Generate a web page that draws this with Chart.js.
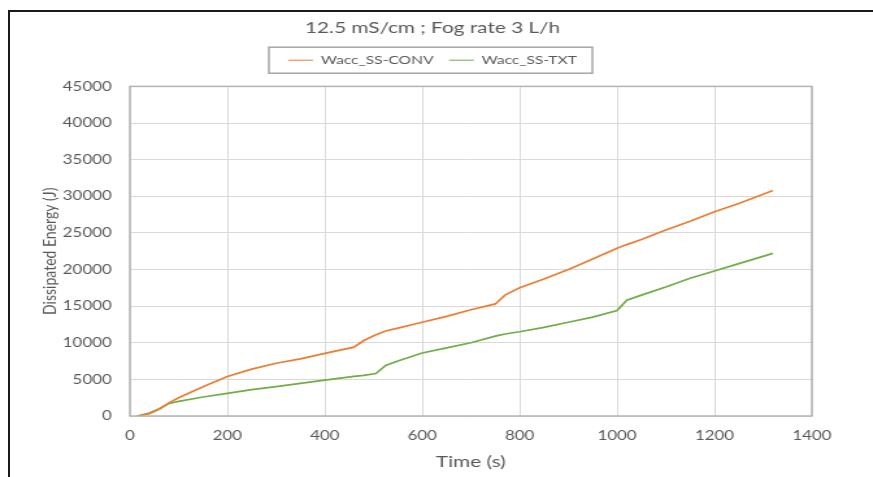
<!DOCTYPE html>
<html>
<head>
<meta charset="utf-8">
<script src="https://cdn.jsdelivr.net/npm/chart.js@4.4.0/dist/chart.umd.min.js"></script>
<style>
  html, body { margin: 0; padding: 0; background: #fff; overflow: hidden; }
  #frame { position: absolute; left: 8px; top: 10px; width: 900px; height: 500px;
           border-left: 2px solid #1a1a1a; border-top: 2px solid #1a1a1a; }
  /* o original é esticado na horizontal, então o canvas também */
  #wrap { position: absolute; left: 0; top: 0; width: 672px; height: 477px;
          transform: scaleX(1.299); transform-origin: 0 0; }
</style>
</head>
<body>
<div id="frame"></div>
<div id="wrap"><canvas id="chart" width="672" height="477"></canvas></div>
<script>
// Tempo (s) e energia dissipada (J)
const time = [15, 40, 60, 80, 100, 150, 200, 250, 300, 350, 400, 460, 480, 505, 525, 550, 600, 650, 700, 750, 770, 800, 850, 900, 950, 1000, 1020, 1050, 1100, 1150, 1200, 1250, 1320];
const convValues = [0, 300, 900, 1800, 2500, 4000, 5400, 6400, 7200, 7800, 8550, 9400, 10300, 11100, 11600, 12000, 12800, 13600, 14500, 15300, 16500, 17500, 18700, 20000, 21450, 22900, 23400, 24100, 25400, 26600, 27900, 29000, 30800];
const txtValues = [0, 400, 1000, 1700, 2000, 2600, 3100, 3600, 4000, 4450, 4900, 5400, 5550, 5800, 6900, 7500, 8600, 9300, 10000, 10900, 11200, 11500, 12100, 12800, 13500, 14400, 15800, 16500, 17600, 18800, 19800, 20800, 22200];
const seriesNames = ['Wacc_SS-CONV', 'Wacc_SS-TXT'];

const toPoints = values => time.map((t, i) => ({ x: t, y: values[i] }));

const fontFamily = 'Lato, "Open Sans", sans-serif';
const textColor = '#595959';

// Caixa em volta da legenda e moldura da área do gráfico
const boxesPlugin = {
    id: 'boxes',
    afterDraw(chart) {
        const ctx = chart.ctx;
        const a = chart.chartArea;
        ctx.save();
        ctx.strokeStyle = '#b3b3b3';
        ctx.lineWidth = 1.5;
        ctx.strokeRect(a.left, a.top, a.right - a.left, a.bottom - a.top);

        const hb = chart.legend.legendHitBoxes;
        if (hb && hb.length) {
            const first = hb[0], last = hb[hb.length - 1];
            const x1 = first.left - 15, x2 = last.left + last.width + 12;
            const y1 = first.top - 7, y2 = first.top + first.height + 7;
            ctx.strokeStyle = '#a6a6a6';
            ctx.lineWidth = 1.5;
            ctx.strokeRect(x1, y1, x2 - x1, y2 - y1);
        }
        ctx.restore();
    }
};

const config = {
    type: 'line',
    data: {
        datasets: [
            { label: seriesNames[0], data: toPoints(convValues), borderColor: '#ED7D31', backgroundColor: '#ED7D31' },
            { label: seriesNames[1], data: toPoints(txtValues), borderColor: '#70AD47', backgroundColor: '#70AD47' }
        ]
    },
    options: {
        responsive: false,
        animation: false,
        elements: {
            point: { radius: 0 },
            line: { borderWidth: 1.7, tension: 0 }
        },
        layout: { padding: { left: 41, right: 47, top: 14, bottom: 0 } },
        plugins: {
            title: {
                display: true,
                text: '12.5 mS/cm ; Fog rate 3 L/h',
                color: textColor,
                font: { family: fontFamily, size: 16, weight: 'normal' },
                padding: { top: 4, bottom: 5 }
            },
            // só um espaço entre a legenda e o gráfico
            subtitle: {
                display: true,
                text: '',
                weight: 500,
                font: { size: 6 },
                padding: { top: 3, bottom: 0 }
            },
            legend: {
                display: true,
                labels: {
                    usePointStyle: true,
                    pointStyle: 'line',
                    pointStyleWidth: 19,
                    color: textColor,
                    font: { family: fontFamily, size: 12 },
                    padding: 12
                }
            },
            tooltip: { enabled: false }
        },
        scales: {
            x: {
                type: 'linear',
                min: 0,
                max: 1400,
                ticks: { stepSize: 200, color: textColor, font: { family: fontFamily, size: 13 }, padding: 12, maxRotation: 0, callback: v => v },
                grid: { color: '#d9d9d9', drawTicks: false },
                border: { display: false },
                title: { display: true, text: 'Time (s)', color: textColor, font: { family: fontFamily, size: 16 }, padding: { top: 4, bottom: 6 } },
                afterFit(scale) { scale.height = 61; }
            },
            y: {
                min: 0,
                max: 45000,
                ticks: { stepSize: 5000, color: textColor, font: { family: fontFamily, size: 13 }, padding: 14, callback: v => v },
                grid: { color: '#d9d9d9', drawTicks: false },
                border: { display: false },
                title: { display: true, text: 'Dissipated Energy (J)', color: textColor, font: { family: fontFamily, size: 14 }, padding: { top: -11, bottom: 0 } },
                afterFit(scale) { scale.width = 59; }
            }
        }
    },
    plugins: [boxesPlugin]
};

const ctx = document.getElementById('chart').getContext('2d');
const energyChart = new Chart(ctx, config);
</script>
</body>
</html>
